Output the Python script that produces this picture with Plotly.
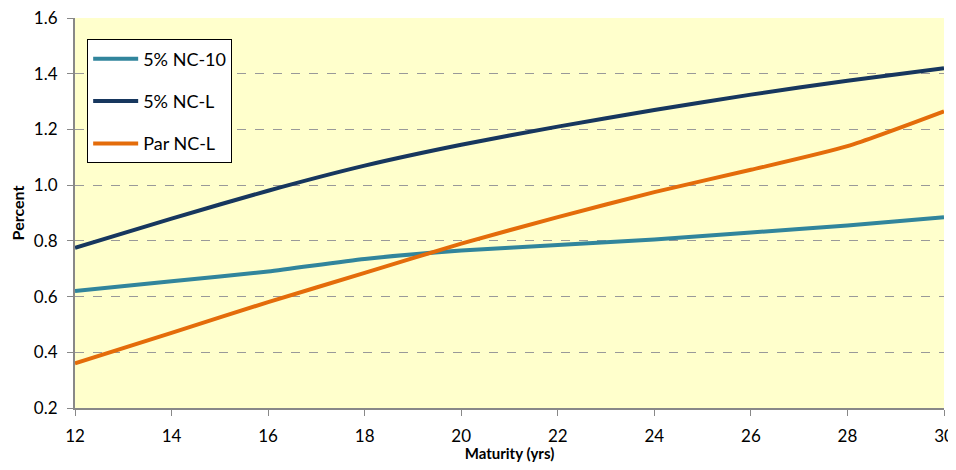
import plotly.graph_objects as go

maturity = [12, 14, 16, 18, 20, 22, 24, 26, 28, 30]
nc10 = [0.62, 0.655, 0.69, 0.735, 0.765, 0.785, 0.805, 0.83, 0.855, 0.885]
ncl = [0.775, 0.88, 0.98, 1.07, 1.145, 1.21, 1.27, 1.325, 1.375, 1.42]
par_ncl = [0.36, 0.47, 0.58, 0.685, 0.79, 0.885, 0.975, 1.055, 1.14, 1.265]

names = ["5% NC-10", "5% NC-L", "Par NC-L"]
colors = ["#31859C", "#17375E", "#E46C0A"]
series = [nc10, ncl, par_ncl]

fig = go.Figure()
for n, c, s in zip(names, colors, series):
    fig.add_trace(go.Scatter(x=maturity, y=s, name=n, mode="lines",
                             line=dict(color=c, width=4, shape="spline", smoothing=0.6),
                             legendgroup=n))

font = "Lato, Carlito, Calibri, sans-serif"
# page body has an 8px margin, so the figure is sized/offset to compensate
fig.update_layout(
    width=948, height=454,
    margin=dict(l=67, r=12, t=10, b=54),
    paper_bgcolor="white", plot_bgcolor="#FFFFCC",
    font=dict(family=font, size=17, color="black"),
    showlegend=True,
    legend=dict(x=0.014, y=0.945, xanchor="left", yanchor="top",
                bordercolor="black", borderwidth=1, bgcolor="white",
                font=dict(size=18), tracegroupgap=16, itemwidth=45),
    xaxis=dict(range=[12, 30], tickvals=list(range(12, 31, 2)),
               showgrid=False, showline=True, linecolor="#888888", linewidth=2,
               ticks="outside", ticklen=6, tickcolor="#888888",
               ticklabeloverflow="allow", ticklabelstandoff=6,
               title=dict(text="<b>Maturity (yrs)</b>", font=dict(size=15), standoff=6),
               zeroline=False, automargin=False),
    yaxis=dict(range=[0.2, 1.6], tickvals=[0.2, 0.4, 0.6, 0.8, 1.0, 1.2, 1.4, 1.6],
               ticktext=["0.2", "0.4", "0.6", "0.8", "1.0", "1.2", "1.4", "1.6"],
               showgrid=True, gridcolor="#999999", griddash="dash", gridwidth=1,
               showline=True, linecolor="#888888", linewidth=2,
               ticks="outside", ticklen=6, tickcolor="#888888",
               ticklabeloverflow="allow", ticklabelstandoff=6,
               title=dict(text="<b>Percent</b>", font=dict(size=16), standoff=6),
               zeroline=False, automargin=False),
)
fig.write_html("out.html")
